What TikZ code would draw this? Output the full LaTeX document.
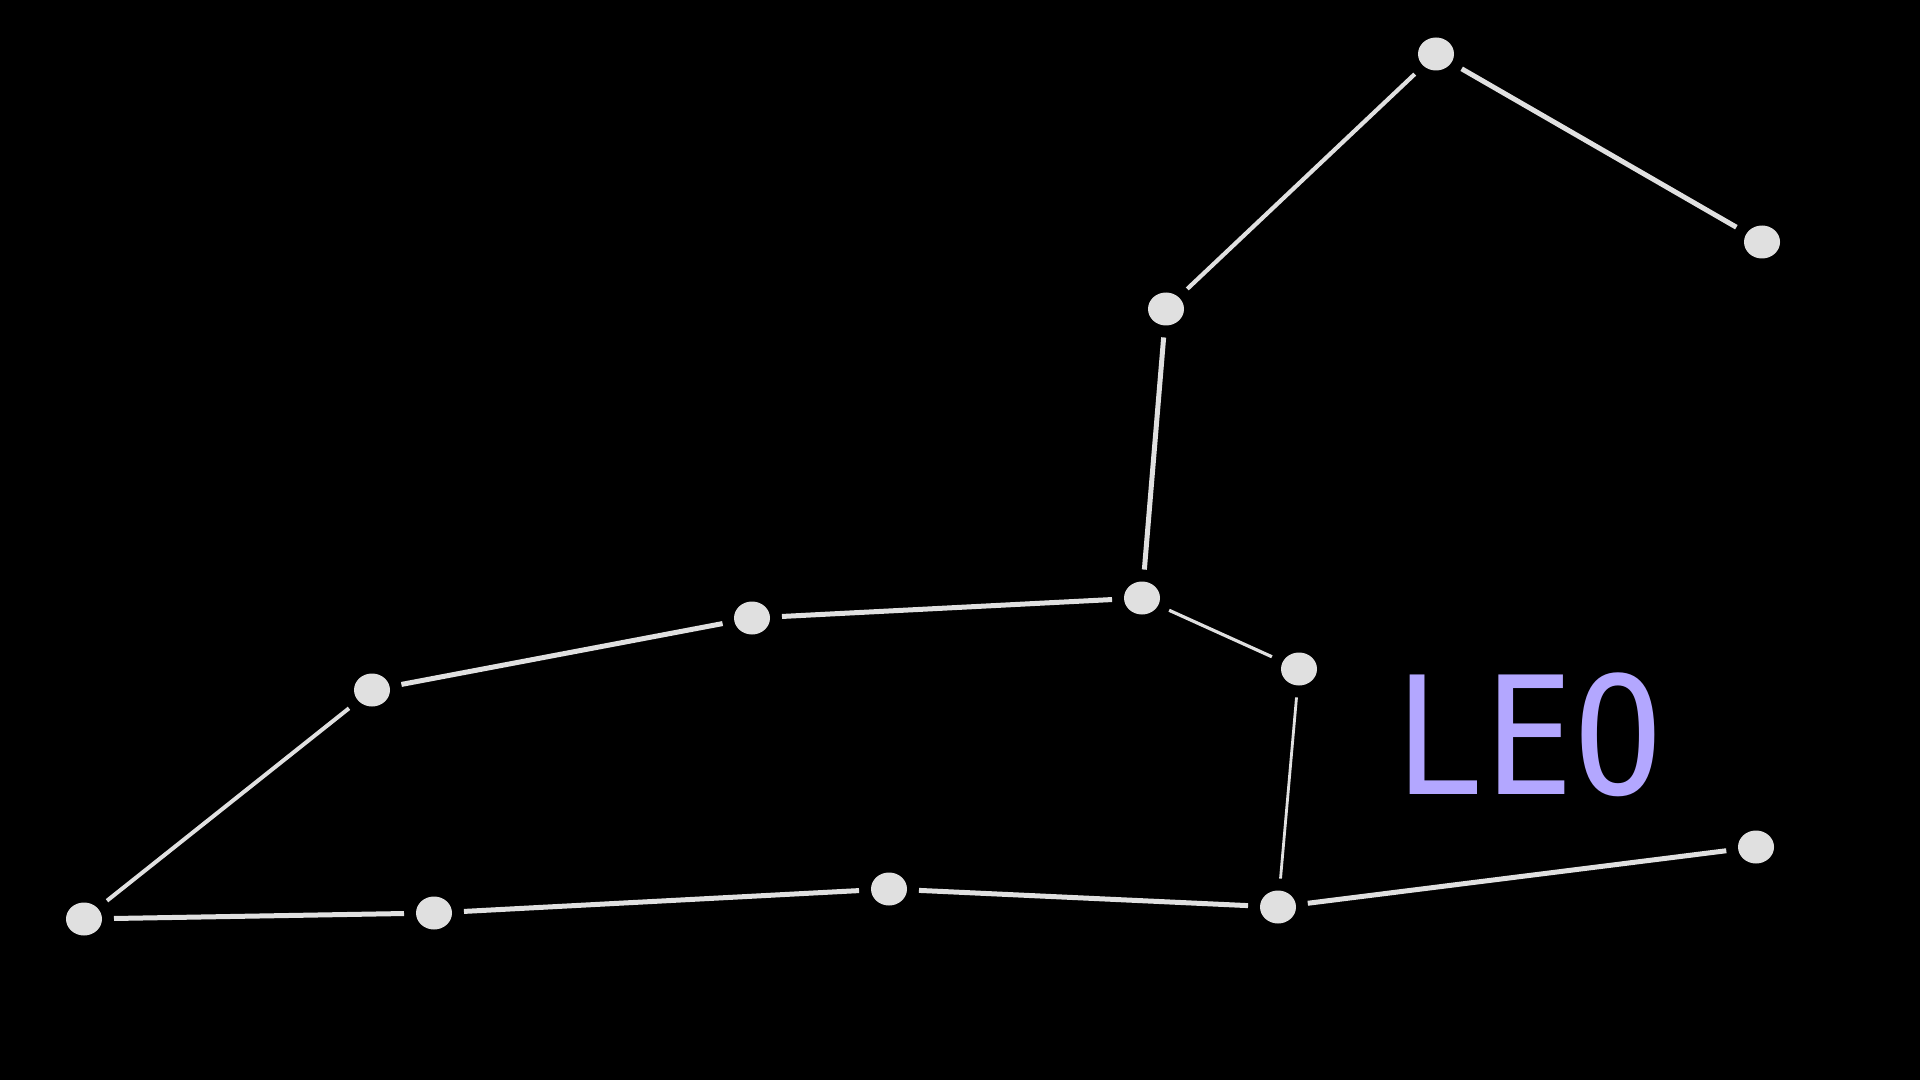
\documentclass[tikz,border=0pt]{standalone}
\usepackage{fontspec}
\newfontfamily\leofont{DejaVu Sans Mono}
\usetikzlibrary{shapes.geometric}
\definecolor{starcol}{HTML}{E0E0E0}
\definecolor{leocol}{HTML}{B3A7FF}

\begin{document}
\begin{tikzpicture}[x=0.5pt,y=-0.5pt,
  star/.style={ellipse,fill=starcol,minimum width=18pt,minimum height=16.5pt,inner sep=0pt,outer sep=6pt},
  link/.style={draw=starcol,line width=2.5pt}]
\fill[black] (0,0) rectangle (1920,1080);
\node[star] (s0)  at (1436,54)  {};
\node[star] (s1)  at (1762,242) {};
\node[star] (s2)  at (1166,309) {};
\node[star] (s3)  at (1142,598) {};
\node[star] (s4)  at (1299,669) {};
\node[star] (s5)  at (752,618)  {};
\node[star] (s6)  at (372,690)  {};
\node[star] (s7)  at (84,919)   {};
\node[star] (s8)  at (434,913)  {};
\node[star] (s9)  at (889,889)  {};
\node[star] (s10) at (1278,907) {};
\node[star] (s11) at (1756,847) {};
\node[text=leocol,anchor=base,font=\leofont\fontsize{82pt}{90pt}\selectfont] (leo) at (1529,794) {\scalebox{0.91}[1]{LEO}};

\path[link] (s0) edge[line width=2.1pt] (s2)
                 edge (s1)
            (s2) edge (s3)
            (s3) edge (s5)
                 edge[line width=1.6pt] (s4)
            (s5) edge (s6)
            (s6) edge[line width=2pt] (s7)
            (s7) edge (s8)
            (s8) edge (s9)
            (s9) edge (s10)
            (s4) edge[line width=1.4pt] (s10)
            (s10) edge (s11);
\end{tikzpicture}
\end{document}
